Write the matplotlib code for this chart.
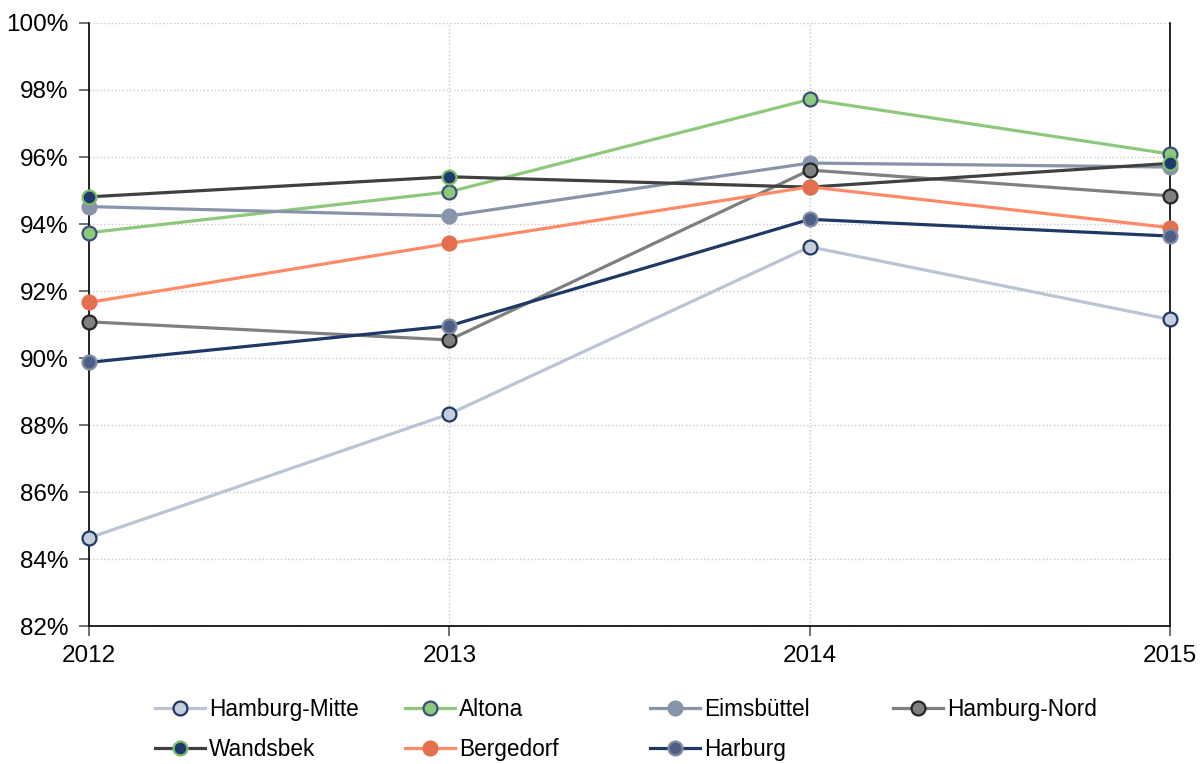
import matplotlib
matplotlib.use('Agg')
import matplotlib.pyplot as plt
from matplotlib.ticker import PercentFormatter

years = [2012, 2013, 2014, 2015]

hamburg_mitte = [84.63, 88.33, 93.32, 91.15]
altona = [93.74, 94.96, 97.72, 96.09]
eimsbuettel = [94.52, 94.24, 95.82, 95.70]
hamburg_nord = [91.08, 90.54, 95.61, 94.84]
wandsbek = [94.81, 95.41, 95.10, 95.81]
bergedorf = [91.66, 93.42, 95.11, 93.89]
harburg = [89.87, 90.96, 94.14, 93.64]

y_ticks = [82, 84, 86, 88, 90, 92, 94, 96, 98, 100]

# (label, values, line colour, marker face, marker edge)
series = [
    ('Hamburg-Mitte', hamburg_mitte, '#BAC4D4', '#C5CEDD', '#1F3864'),
    ('Altona', altona, '#8DC97A', '#8DC97A', '#3C4F7C'),
    ('Eimsbüttel', eimsbuettel, '#8794A9', '#8794A9', '#8794A9'),
    ('Hamburg-Nord', hamburg_nord, '#7F7F7F', '#808080', '#262626'),
    ('Wandsbek', wandsbek, '#404040', '#20396E', '#7CBF6A'),
    ('Bergedorf', bergedorf, '#FF8A68', '#E2704F', '#E2704F'),
    ('Harburg', harburg, '#1F3864', '#4D5F84', '#7F8BA3'),
]

plt.rcParams['font.family'] = ['Liberation Sans', 'DejaVu Sans']

fig = plt.figure(figsize=(12.01, 7.64), dpi=100)
ax = fig.add_axes([0.0741, 0.1806, 0.9001, 0.7893])

lines = []
for name, vals, lc, fc, ec in series:
    ln, = ax.plot(years, vals, color=lc, linewidth=2.3, marker='o', markersize=10,
                  markerfacecolor=fc, markeredgecolor=ec, markeredgewidth=1.6,
                  label=name, clip_on=False, zorder=3)
    lines.append(ln)

ax.set_xlim(2012, 2015)
ax.set_ylim(82, 100)
ax.set_xticks(years)
ax.set_xticklabels([str(y) for y in years])
ax.set_yticks(y_ticks)
ax.yaxis.set_major_formatter(PercentFormatter(decimals=0))

ax.grid(True, color='#C8C8C8', linestyle=':', linewidth=1.0)
ax.spines['top'].set_visible(False)
for s in ['left', 'bottom', 'right']:
    ax.spines[s].set_color('#000000')
    ax.spines[s].set_linewidth(1.2)
ax.tick_params(axis='both', direction='out', length=7, width=1.2,
               color='#595959', labelsize=17.5)
ax.tick_params(axis='y', pad=8)
ax.tick_params(axis='x', pad=7)

# legend laid out row by row, four fixed-width columns
col_x = [155 / 1201, 405 / 1201, 650 / 1201, 893 / 1201]
for c in range(4):
    idx = [i for i in (c, c + 4) if i < len(lines)]
    leg = fig.legend([lines[i] for i in idx], [series[i][0] for i in idx],
                     loc='upper left', bbox_to_anchor=(col_x[c], 0.087),
                     frameon=False, fontsize=16.3, handlelength=2.2,
                     handletextpad=0.2, labelspacing=0.78,
                     borderpad=0, borderaxespad=0)

fig.savefig('out.png', dpi=100)
